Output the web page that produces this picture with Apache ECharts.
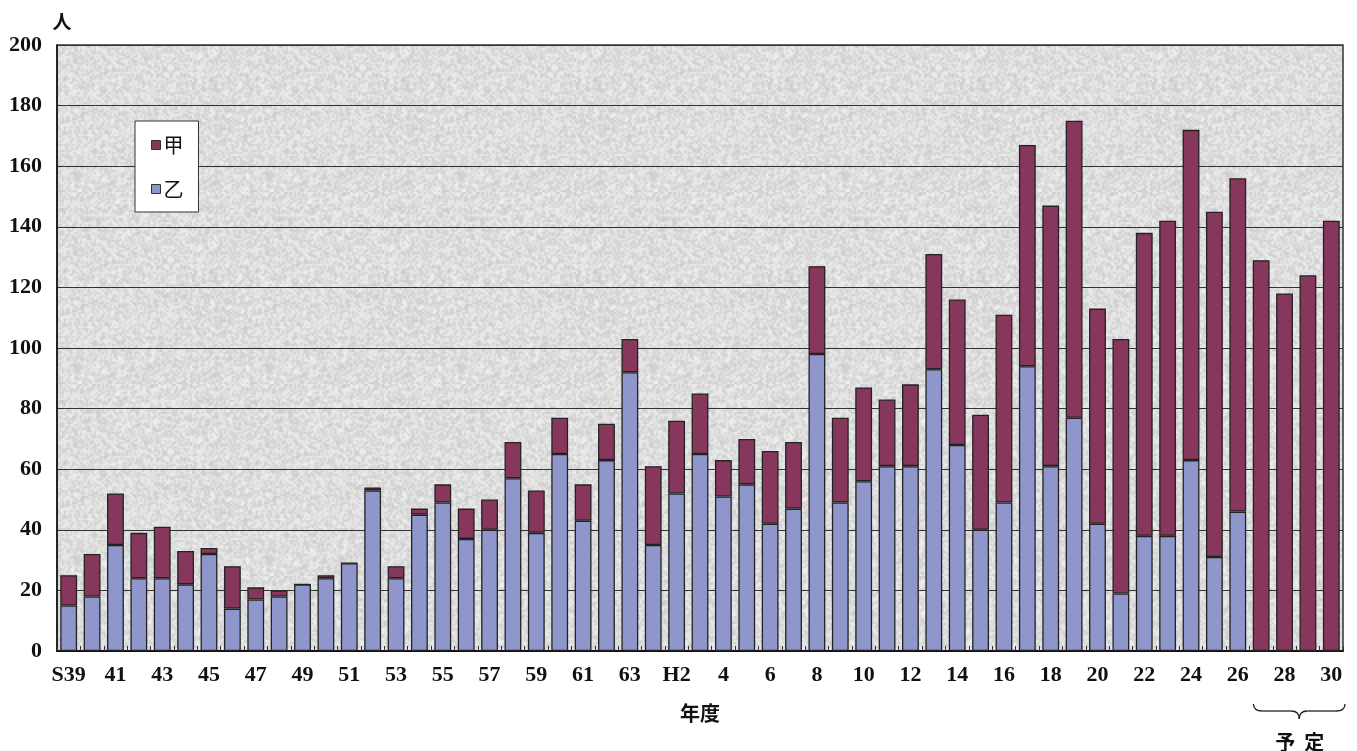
<!DOCTYPE html>
<html>
<head>
<meta charset="utf-8">
<script src="https://cdn.jsdelivr.net/npm/echarts@6/dist/echarts.min.js"></script>
<style>
  html, body { margin: 0; padding: 0; background: #ffffff; }
  #chart { width: 1357px; height: 751px; }
</style>
</head>
<body>
<div id="chart"></div>
<script>
// Fiscal years: Showa 39–63, then Heisei 元–30
const years = ['S39','40','41','42','43','44','45','46','47','48','49','50','51','52','53','54','55','56','57','58','59','60','61','62','63',
  'H元','H2','3','4','5','6','7','8','9','10','11','12','13','14','15','16','17','18','19','20','21','22','23','24','25','26','27','28','29','30'];

// 乙 (lower segment)
const otsu = [15,18,35,24,24,22,32,14,17,18,22,24,29,53,24,45,49,37,40,57,39,65,43,63,92,
  35,52,65,51,55,42,47,98,49,56,61,61,93,68,40,49,94,61,77,42,19,38,38,63,31,46,0,0,0,0];

// 甲 (upper segment)
const kou = [10,14,17,15,17,11,2,14,4,2,0,1,0,1,4,2,6,10,10,12,14,12,12,12,11,
  26,24,20,12,15,24,22,29,28,31,22,27,38,48,38,62,73,86,98,71,84,100,104,109,114,110,129,118,124,142];

const yTicks = { min: 0, max: 200, step: 20 };

const SERIF = '"Liberation Serif", "DejaVu Serif", serif';
const CJK = '"Noto Sans CJK JP", sans-serif';

// Light grey grainy plot fill, built from a deterministic hash
function makeTexture() {
  const size = 96;
  const raw = document.createElement('canvas');
  raw.width = size; raw.height = size;
  const ctx = raw.getContext('2d');
  const img = ctx.createImageData(size, size);
  let h = 2463534242;
  for (let i = 0; i < size * size; i++) {
    h ^= h << 13; h >>>= 0; h ^= h >>> 17; h ^= h << 5; h >>>= 0;
    const n = (h % 1000) / 1000;
    const v = Math.min(250, Math.round(222 + (n - 0.5) * 40));
    img.data[i * 4] = v; img.data[i * 4 + 1] = v; img.data[i * 4 + 2] = v; img.data[i * 4 + 3] = 255;
  }
  ctx.putImageData(img, 0, 0);
  const out = document.createElement('canvas');
  out.width = size * 2; out.height = size * 2;
  const octx = out.getContext('2d');
  octx.imageSmoothingEnabled = true;
  octx.filter = 'blur(0.5px)';
  octx.drawImage(raw, 0, 0, size * 2, size * 2);
  return out;
}

const chart = echarts.init(document.getElementById('chart'), null, { renderer: 'canvas' });

chart.setOption({
  animation: false,
  backgroundColor: '#ffffff',
  grid: {
    left: 57, right: 14, top: 45, bottom: 100,
    show: true,
    backgroundColor: { image: makeTexture(), repeat: 'repeat' },
    borderColor: '#333333',
    borderWidth: 1.5
  },
  legend: {
    data: ['甲', '乙'],
    orient: 'vertical',
    left: 135, top: 121,
    width: 64,
    backgroundColor: '#ffffff',
    borderColor: '#333333',
    borderWidth: 1,
    padding: [14, 15, 13, 16],
    itemGap: 24,
    itemWidth: 9,
    itemHeight: 9,
    itemStyle: { borderColor: '#333333', borderWidth: 1 },
    icon: 'rect',
    textStyle: { fontFamily: CJK, fontSize: 20, color: '#111111', padding: [0, 0, 0, -2] },
    selectedMode: false
  },
  xAxis: {
    type: 'category',
    data: years,
    name: '年度',
    nameLocation: 'middle',
    nameGap: 52,
    nameTextStyle: { fontFamily: CJK, fontSize: 20, fontWeight: 'bold', color: '#111111' },
    axisLine: { lineStyle: { color: '#111111', width: 2 } },
    axisTick: { show: true, inside: true, length: 5, interval: 0, lineStyle: { color: '#333333', width: 1 } },
    axisLabel: {
      interval: 1,
      margin: 13,
      fontFamily: SERIF, fontWeight: 'bold', fontSize: 22, color: '#111111',
      formatter: function (v) { return v === 'H元' ? '' : v; }
    }
  },
  yAxis: {
    type: 'value',
    min: yTicks.min, max: yTicks.max, interval: yTicks.step,
    name: '人',
    nameLocation: 'end',
    nameGap: 14,
    nameTextStyle: { fontFamily: CJK, fontSize: 19, fontWeight: 'bold', color: '#111111', padding: [0, 0, 0, 10] },
    axisLine: { show: true, lineStyle: { color: '#111111', width: 1.5 } },
    axisTick: { show: false },
    splitLine: { show: true, lineStyle: { color: '#333333', width: 1 } },
    axisLabel: { margin: 15, fontFamily: SERIF, fontWeight: 'bold', fontSize: 22, color: '#111111' }
  },
  series: [
    {
      name: '乙', type: 'bar', stack: 'total', data: otsu,
      barCategoryGap: '28%',
      itemStyle: { color: '#8e96cc', borderColor: '#222222', borderWidth: 1.3 }
    },
    {
      name: '甲', type: 'bar', stack: 'total', data: kou,
      barCategoryGap: '28%',
      itemStyle: { color: '#88375c', borderColor: '#222222', borderWidth: 1.3 }
    }
  ]
});

// Brace under the planned years (H27–H30) with its caption
(function () {
  const cw = chart.convertToPixel({ xAxisIndex: 0 }, '28') - chart.convertToPixel({ xAxisIndex: 0 }, '27');
  const x1 = chart.convertToPixel({ xAxisIndex: 0 }, '27') - cw / 2 + 4;
  const x2 = chart.convertToPixel({ xAxisIndex: 0 }, '30') + cw / 2 + 2;
  const xm = (x1 + x2) / 2;
  const yTop = 704, yLine = 711, yTip = 719;
  const ls = { stroke: '#222222', lineWidth: 1.3, fill: null };
  const cap = { fontFamily: CJK, fontSize: 20, fontWeight: 'bold', fill: '#111111', align: 'center', verticalAlign: 'middle' };
  chart.setOption({
    graphic: [
      { type: 'bezierCurve', shape: { x1: x1, y1: yTop, cpx1: x1, cpy1: yLine, x2: x1 + 9, y2: yLine }, style: ls },
      { type: 'line', shape: { x1: x1 + 9, y1: yLine, x2: xm - 8, y2: yLine }, style: ls },
      { type: 'bezierCurve', shape: { x1: xm - 8, y1: yLine, cpx1: xm, cpy1: yLine, x2: xm, y2: yTip }, style: ls },
      { type: 'bezierCurve', shape: { x1: xm + 8, y1: yLine, cpx1: xm, cpy1: yLine, x2: xm, y2: yTip }, style: ls },
      { type: 'line', shape: { x1: xm + 8, y1: yLine, x2: x2 - 9, y2: yLine }, style: ls },
      { type: 'bezierCurve', shape: { x1: x2, y1: yTop, cpx1: x2, cpy1: yLine, x2: x2 - 9, y2: yLine }, style: ls },
      { type: 'text', x: xm - 14, y: 742, style: Object.assign({ text: '予' }, cap) },
      { type: 'text', x: xm + 15, y: 742, style: Object.assign({ text: '定' }, cap) }
    ]
  });
})();
</script>
</body>
</html>
